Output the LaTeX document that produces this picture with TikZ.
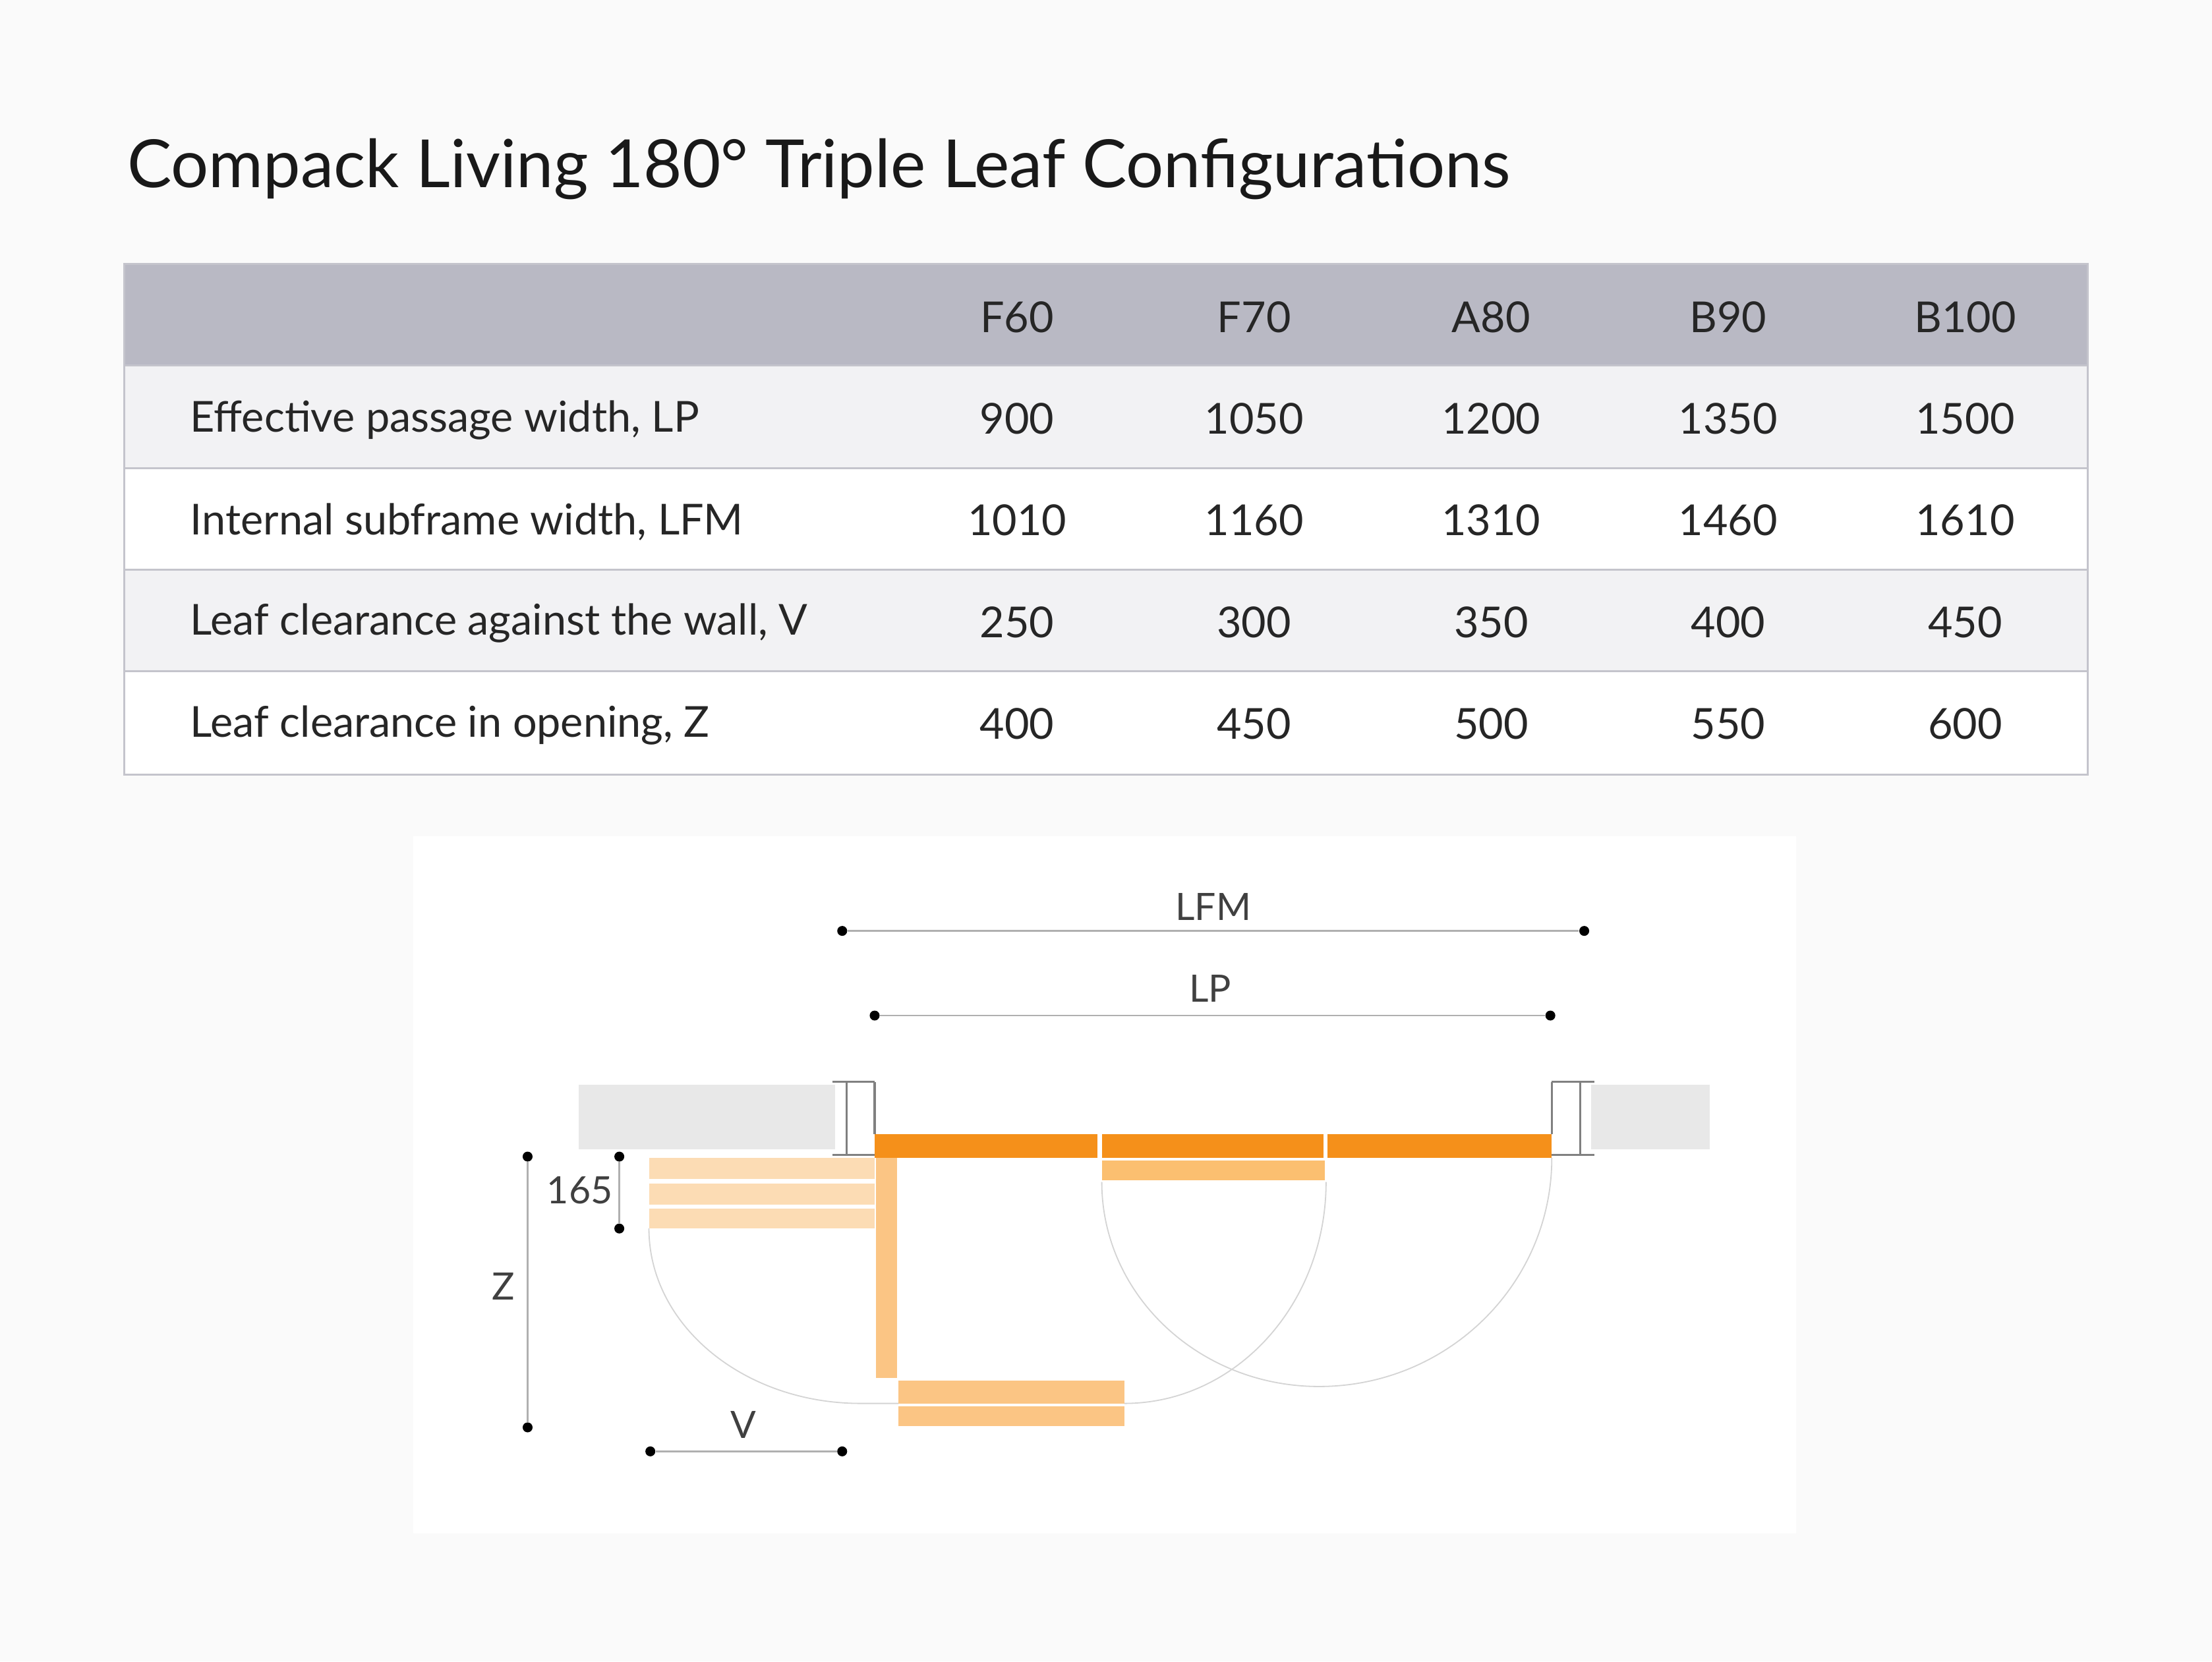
\documentclass[tikz,border=0pt]{standalone}
\usepackage{fontspec}
\setmainfont{Lato}
\usetikzlibrary{positioning}
\definecolor{bgc}{HTML}{FAFAFA}
\definecolor{headc}{HTML}{B9B9C4}
\definecolor{rowc}{HTML}{F2F2F4}
\definecolor{linec}{HTML}{C4C4CC}
\definecolor{wallc}{HTML}{E8E8E8}
\definecolor{leafc}{HTML}{F5901A}
\definecolor{leafb}{HTML}{FBBF70}
\definecolor{leafp}{HTML}{FCDCB4}
\definecolor{leafv}{HTML}{FBC584}
\definecolor{arcc}{HTML}{D4D4D4}
\definecolor{dimc}{HTML}{B0B0B0}
\tikzset{
  cell/.style={font=\fontsize{21.5}{25}\selectfont, text=black!85},
  rowlabel/.style={cell, anchor=west},
  dimtext/.style={font=\fontsize{19}{23}\selectfont, text=black!75},
  dimline/.style={dimc, line width=0.8pt},
  dot/.style={circle, fill=black, inner sep=0pt, minimum size=5pt},
  swing/.style={arcc, line width=0.6pt},
}
\begin{document}
\begin{tikzpicture}[x=0.025cm, y=-0.025cm]
				% background and title
				\fill[bgc] (0,0) rectangle (1568,1178);
				\useasboundingbox (0,0) rectangle (1568,1178);
				\node[anchor=base west, font=\fontsize{33.5}{40}\selectfont, text=black!90, inner sep=0pt] (title) at (90,133) {Compack Living 180° Triple Leaf Configurations};
				% table
				\fill[headc] (88,187) rectangle (1480,259);
				\fill[rowc] (88,259) rectangle (1480,332);
				\fill[white] (88,332) rectangle (1480,404);
				\fill[rowc] (88,404) rectangle (1480,476);
				\fill[white] (88,476) rectangle (1480,549);
				\draw[linec, line width=1pt] (88,187) rectangle (1480,549);
				\foreach \y in {259,332,404,476} \draw[linec, line width=1pt] (88,\y) -- (1480,\y);
				\foreach \t [count=\i] in {F60,F70,A80,B90,B100}
					\node[cell] (h\i) at (553+168*\i,225) {\t};
				\node[rowlabel] (r1) at (130,298) {Effective passage width, LP};
				\node[rowlabel] (r2) at (130,370) {Internal subframe width, LFM};
				\node[rowlabel] (r3) at (130,442) {Leaf clearance against the wall, V};
				\node[rowlabel] (r4) at (130,514) {Leaf clearance in opening, Z};
				\foreach \t [count=\i] in {900,1050,1200,1350,1500}
					\node[cell] (a\i) at (553+168*\i,297) {\t};
				\foreach \t [count=\i] in {1010,1160,1310,1460,1610}
					\node[cell] (b\i) at (553+168*\i,369) {\t};
				\foreach \t [count=\i] in {250,300,350,400,450}
					\node[cell] (c\i) at (553+168*\i,441) {\t};
				\foreach \t [count=\i] in {400,450,500,550,600}
					\node[cell] (d\i) at (553+168*\i,513) {\t};
				% drawing panel
				\fill[white] (293,593) rectangle (1273,1087);
				% walls and frames
				\fill[wallc] (410,769) rectangle (592,815);
				\fill[wallc] (1128,769) rectangle (1212,815);
				\draw[gray, line width=1pt] (590,767) -- (620,767) (600,767) -- (600,819) (590,819) -- (620,819) (620,767) -- (620,804);
				\draw[gray, line width=1pt] (1100,767) -- (1130,767) (1120,767) -- (1120,819) (1100,819) -- (1130,819) (1100,767) -- (1100,804);
				% swing paths
				\draw[swing] (460,871) arc[start angle=180, end angle=270, x radius=150, y radius=-124] -- (637,995);
				\draw[swing] (781,838) arc[start angle=180, end angle=270, x radius=154, y radius=-145];
				\draw[swing] (1100,821) arc[start angle=0, end angle=-90, x radius=165, y radius=-162];
				\draw[swing] (797,995) arc[start angle=270, end angle=360, x radius=143, y radius=-157];
				% leaves
				\foreach \xa/\xb in {620/778,781/938,941/1100}
					\fill[leafc] (\xa,804) rectangle (\xb,821);
				\fill[leafb] (781,823) rectangle (939,837);
				\foreach \ya/\yb in {821/836,839/854,857/871}
					\fill[leafp] (460,\ya) rectangle (620,\yb);
				\fill[leafv] (621,821) rectangle (636,977);
				\fill[leafv] (637,979) rectangle (797,995);
				\fill[leafv] (637,997) rectangle (797,1011);
				% dimensions
				\node[dot] (lfmA) at (597,660) {};
				\node[dot] (lfmB) at (1123,660) {};
				\draw[dimline] (lfmA) -- (lfmB);
				\node[dimtext] (lfm) at (860,643) {LFM};
				\node[dot] (lpA) at (620,720) {};
				\node[dot] (lpB) at (1099,720) {};
				\draw[dimline] (lpA) -- (lpB);
				\node[dimtext] (lp) at (858,701) {LP};
				\node[dot] (sA) at (439,820) {};
				\node[dot] (sB) at (439,871) {};
				\draw[dimline] (sA) -- (sB);
				\node[dimtext] (s165) at (411,844) {165};
				\node[dot] (zA) at (374,820) {};
				\node[dot] (zB) at (374,1012) {};
				\draw[dimline] (zA) -- (zB);
				\node[dimtext] (z) at (357,912) {Z};
				\node[dot] (vA) at (461,1029) {};
				\node[dot] (vB) at (597,1029) {};
				\draw[dimline] (vA) -- (vB);
				\node[dimtext] (v) at (527,1010) {V};
			\end{tikzpicture}
\end{document}
